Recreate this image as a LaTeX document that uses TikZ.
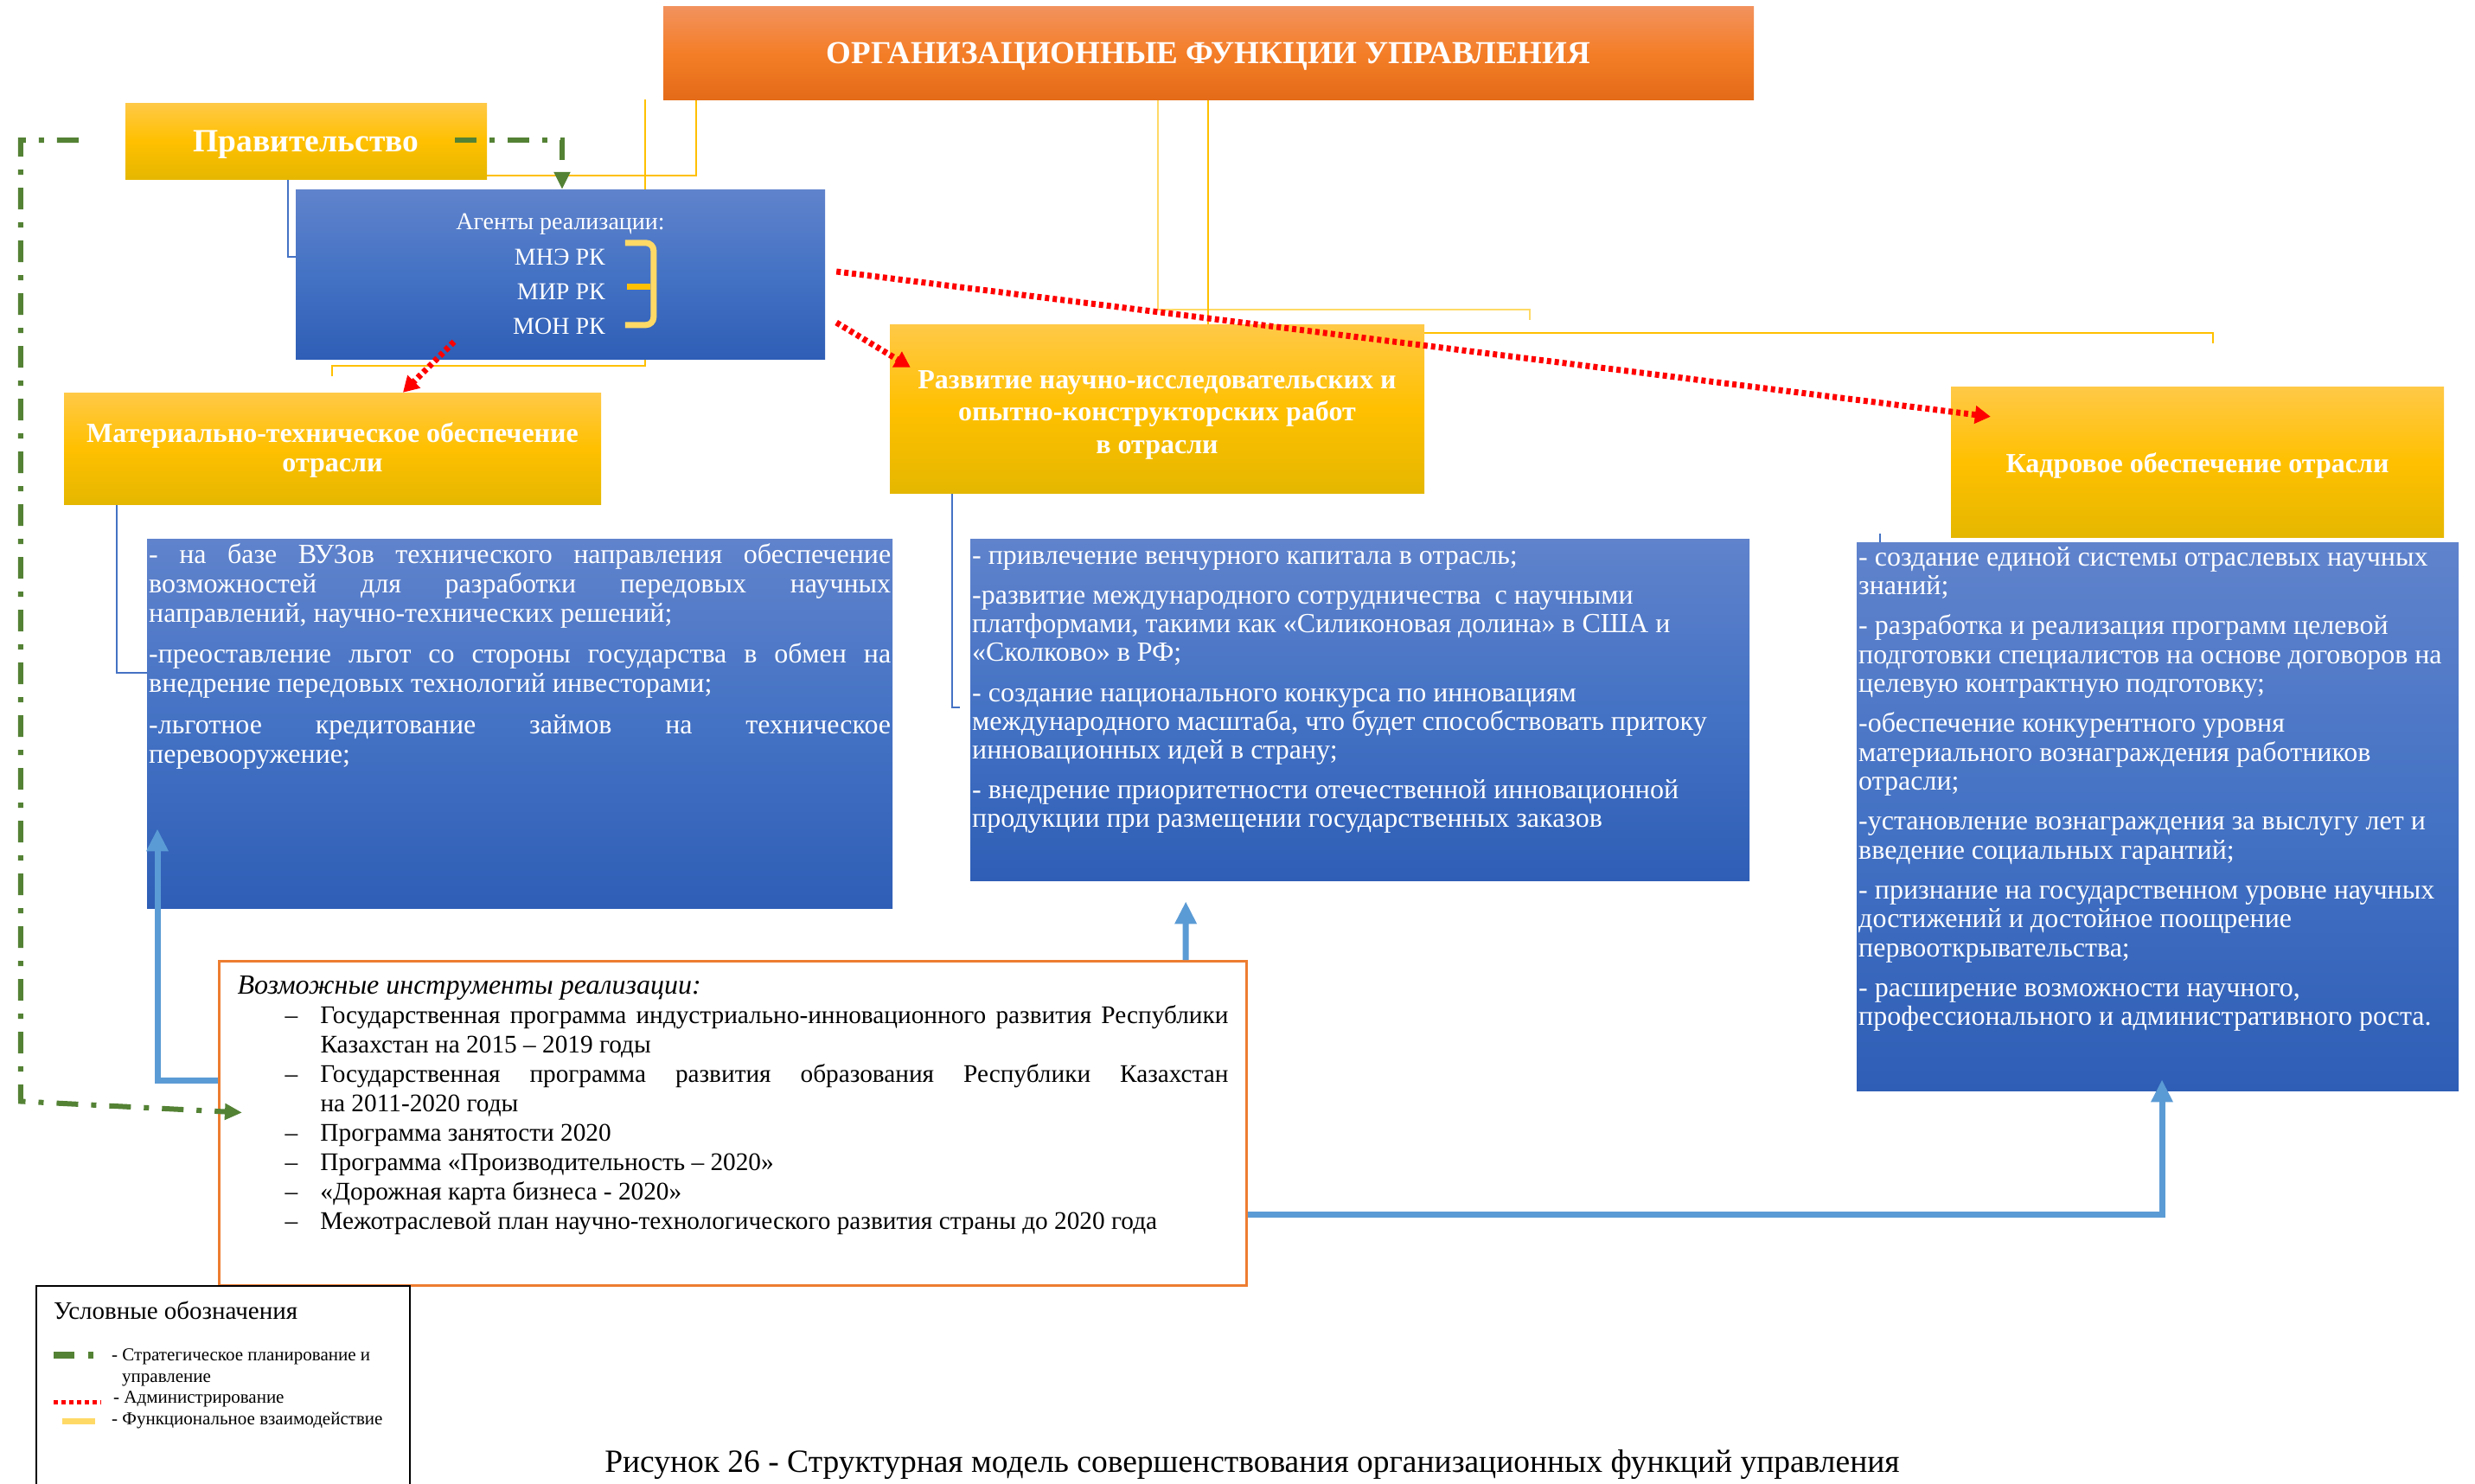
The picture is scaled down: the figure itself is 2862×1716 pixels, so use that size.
\documentclass[tikz,border=0pt]{standalone}
\usepackage{fontspec}
\setmainfont{Liberation Serif}
\usetikzlibrary{arrows.meta,calc,backgrounds}
\definecolor{goldT}{RGB}{255,201,71}
\definecolor{goldM}{RGB}{255,192,0}
\definecolor{goldB}{RGB}{229,183,0}
\definecolor{oraT}{RGB}{242,146,94}
\definecolor{oraM}{RGB}{244,126,40}
\definecolor{oraB}{RGB}{228,107,24}
\definecolor{bluT}{RGB}{96,131,204}
\definecolor{bluM}{RGB}{68,114,196}
\definecolor{bluB}{RGB}{46,94,182}
\definecolor{arrblue}{RGB}{91,155,213}
\definecolor{thinblue}{RGB}{68,114,196}
\definecolor{fgreen}{RGB}{84,130,53}
\definecolor{funcyel}{RGB}{255,192,0}
\definecolor{lightyel}{RGB}{255,217,102}
\definecolor{orborder}{RGB}{237,125,49}
\newcommand{\fs}[2]{\fontsize{#1pt}{#2pt}\selectfont}
\newcommand{\oitem}{\par\noindent\llap{\makebox[41pt][l]{–}}}
\tikzset{
  goldbox/.style={shade, top color=goldT, bottom color=goldB, middle color=goldM,
    text=white, align=center, inner sep=0pt},
  orabox/.style={shade, top color=oraT, bottom color=oraB, middle color=oraM,
    text=white, align=center, inner sep=0pt},
  bluebox/.style={shade, top color=bluT, bottom color=bluB, middle color=bluM,
    text=white, inner xsep=2pt, inner ysep=0pt, anchor=north west},
  agtext/.style={text=white, font=\fs{28}{30}, inner sep=0pt},
  legtext/.style={font=\fs{21}{24}, inner sep=0pt, anchor=base west},
  redarr/.style={red, line width=7pt, dash pattern=on 5pt off 4pt,
    -{Triangle[width=20pt,length=18pt]}},
  gline/.style={fgreen, line width=6pt, dash pattern=on 25pt off 15pt on 6pt off 15pt},
  barrow/.style={arrblue, line width=7pt, -{Triangle[width=24pt,length=26pt]}},
  ythin/.style={funcyel, line width=2pt},
  bthin/.style={thinblue, line width=1.5pt}
}
\begin{document}
\begin{tikzpicture}[x=1pt,y=-1pt]
\useasboundingbox (0,0) rectangle (2862,1716);

% ---- boxes ----
\node[orabox, minimum width=1261pt, minimum height=108pt, font=\fs{37}{40}\bfseries]
  (title) at (1397.5,61) {\rule{0pt}{33pt}ОРГАНИЗАЦИОННЫЕ ФУНКЦИИ УПРАВЛЕНИЯ};
\node[goldbox, minimum width=418pt, minimum height=88pt, font=\fs{37.5}{40}\bfseries]
  (gov) at (354,163) {\rule{0pt}{33pt}Правительство};
\node[bluebox, anchor=center, minimum width=612pt, minimum height=196pt]
  (agents) at (648,317) {};
\node[agtext, anchor=base] (agt) at (648,265) {Агенты реализации:};
\node[agtext, anchor=base east] (ag1) at (700,306) {МНЭ РК};
\node[agtext, anchor=base east] (ag2) at (700,346) {МИР РК};
\node[agtext, anchor=base east] (ag3) at (700,386) {МОН РК};

\node[goldbox, minimum width=621pt, minimum height=129pt, font=\fs{32}{33.5}\bfseries]
  (mat) at (384.5,518.5) {\rule{0pt}{27pt}Материально-техническое обеспечение\\отрасли};
\node[goldbox, minimum width=618pt, minimum height=195pt, font=\fs{32}{37.5}\bfseries]
  (razv) at (1338,472.5) {\rule{0pt}{35pt}Развитие научно-исследовательских и\\опытно-конструкторских работ\\в отрасли};
\node[goldbox, minimum width=570pt, minimum height=174pt, font=\fs{32}{36}\bfseries]
  (kadr) at (2541,534) {\rule{0pt}{32pt}Кадровое обеспечение отрасли};

\node[bluebox] (b1) at (170,623) {\parbox[c][427pt][t]{858pt}{\fs{32}{34}%
  \setlength{\parskip}{13.5pt}\tolerance=10000 \hbadness=10000
  \rule{0pt}{28pt}- на базе ВУЗов технического направления обеспечение\linebreak
  возможностей для разработки передовых научных\linebreak
  направлений, научно-технических решений;\par
  -преоставление льгот со стороны государства в обмен на\linebreak
  внедрение передовых технологий инвесторами;\par
  -льготное кредитование займов на техническое\linebreak
  перевооружение;}};

\node[bluebox] (b2) at (1122,623) {\parbox[c][395pt][t]{897pt}{\fs{32}{33}\raggedright
  \setlength{\parskip}{13.5pt}%
  \rule{0pt}{29pt}- привлечение венчурного капитала в отрасль;\par
  -развитие международного сотрудничества\ \ с научными\\
  платформами, такими как «Силиконовая долина» в США и\\
  «Сколково» в РФ;\par
  - создание национального конкурса по инновациям\\
  международного масштаба, что будет способствовать притоку\\
  инновационных идей в страну;\par
  - внедрение приоритетности отечественной инновационной\\
  продукции при размещении государственных заказов}};

\node[bluebox] (b3) at (2147,627) {\parbox[c][634pt][t]{692pt}{\fs{32}{33.5}\raggedright
  \setlength{\parskip}{12.5pt}%
  \rule{0pt}{27pt}- создание единой системы отраслевых научных\\ знаний;\par
  - разработка и реализация программ целевой\\
  подготовки специалистов на основе договоров на\\
  целевую контрактную подготовку;\par
  -обеспечение конкурентного уровня\\
  материального вознаграждения работников\\ отрасли;\par
  -установление вознаграждения за выслугу лет и\\
  введение социальных гарантий;\par
  - признание на государственном уровне научных\\
  достижений и достойное поощрение\\ первооткрывательства;\par
  - расширение возможности научного,\\
  профессионального и административного роста.}};

\node[draw=orborder, line width=3pt, fill=white, inner sep=0pt, anchor=north west]
  (orange) at (252,1110) {\parbox[c][375pt][t]{1188pt}{\fs{29.3}{34}%
  \leftskip=21pt \rightskip=21pt \tolerance=10000 \hbadness=10000
  \rule{0pt}{38pt}{\fs{32}{34}\itshape Возможные инструменты реализации:}\par
  \leftskip=117pt
  \oitem Государственная программа индустриально-инновационного развития Республики\linebreak
  Казахстан на 2015 – 2019 годы
  \oitem Государственная программа развития образования Республики Казахстан\linebreak
  на 2011-2020 годы
  \oitem Программа занятости 2020
  \oitem Программа «Производительность – 2020»
  \oitem «Дорожная карта бизнеса - 2020»
  \oitem Межотраслевой план научно-технологического развития страны до 2020 года\par}};

% ---- legend ----
\node[draw, line width=2pt, minimum width=432pt, minimum height=240pt, inner sep=0pt,
  anchor=north west] (legend) at (41,1486) {};
\node[font=\fs{29}{32}, inner sep=0pt, anchor=base west] (lg0) at (62,1525) {Условные обозначения};
\node[legtext] (lg1) at (129,1573) {- Стратегическое планирование и};
\node[legtext] (lg1b) at (141,1598) {управление};
\node[legtext] (lg2) at (131,1622) {- Администрирование};
\node[legtext] (lg3) at (129,1647) {- Функциональное взаимодействие};
\draw[gline, line width=8pt, dash pattern=on 24pt off 16pt on 6pt off 30pt] (62,1567) -- (110,1567);
\draw[red, line width=5pt, dash pattern=on 5pt off 4pt] (62,1621) -- (117,1621);
\draw[lightyel, line width=7pt] (72,1643.5) -- (110,1643.5);

% ---- caption ----
\node[font=\fs{37.5}{40}, inner sep=0pt, anchor=base] (cap) at (1448,1702)
  {Рисунок 26 - Структурная модель совершенствования организационных функций управления};

% ---- background connectors ----
\begin{scope}[on background layer]
\fill[white] (0,0) rectangle (2862,1716);
\draw[ythin] ($(title.south west)+(38,0)$) |- ($(gov.south east)+(0,-4)$);
\draw[ythin] ($(title.south west)+(-21,0)$) |- ($(mat.north west)+(310,-31)$) -- ($(mat.north west)+(310,-19)$);
\draw[ythin, lightyel] ($(title.south west)+(572,0)$) |- ($(razv.north west)+(740,-17)$) -- ($(razv.north west)+(740,-5)$);
\draw[ythin] ($(title.south west)+(630,0)$) |- ($(kadr.north west)+(303,-62)$) -- ($(kadr.north west)+(303,-50)$);
\draw[bthin] ($(gov.south west)+(188,0)$) |- ($(agents.west)+(0,-20)$);
\draw[bthin] ($(mat.south west)+(61,0)$) |- ($(b1.north west)+(0,155)$);
\draw[bthin] ($(razv.south west)+(72,0)$) |- ($(b2.north west)+(-12,195)$);
\draw[bthin] ($(b3.north west)+(27,-10)$) -- ($(b3.north west)+(27,0)$);
\end{scope}

% ---- bracket in agents box ----
\draw[lightyel, line width=7pt, rounded corners=9pt]
  ($(agents.north west)+(381,62)$) -- ($(agents.north west)+(414,62)$)
  -- ($(agents.north west)+(414,157)$) -- ($(agents.north west)+(381,157)$);
\draw[funcyel, line width=7pt] ($(agents.north west)+(383,113)$) -- ($(agents.north west)+(410,113)$);

% ---- green strategic lines ----
\draw[gline, -{Triangle[width=18pt,length=20pt]}]
  ($(gov.east)+(-37,-1)$) -| ($(agents.north)+(2,0)$);
\draw[gline, -{Triangle[width=18pt,length=20pt]}]
  ($(gov.west)+(-54,-1)$) -- ($(gov.west)+(-121,-1)$)
  -- ($(orange.west)+(-228,-25.5)$) -- ($(orange.west)+(28,-12.5)$);

% ---- red administrative arrows ----
\draw[redarr] ($(agents.south)+(-123,-20)$) -- ($(mat.north)+(81.5,0)$);
\draw[redarr] ($(agents.east)+(13,56)$) -- ($(razv.north west)+(24,50)$);
\draw[redarr] ($(agents.east)+(13,-3)$) -- ($(kadr.north west)+(46,35)$);

% ---- blue thick arrows ----
\draw[barrow] ($(orange.west)+(0,-49.5)$) -| ($(b1.south west)+(12,-92)$);
\draw[barrow] ($(orange.north west)+(1119,0)$) -- ($(b2.south)+(-201.5,24)$);
\draw[barrow] ($(orange.east)+(0,105.5)$) -| ($(b3.south west)+(353,-13)$);
\end{tikzpicture}
\end{document}
